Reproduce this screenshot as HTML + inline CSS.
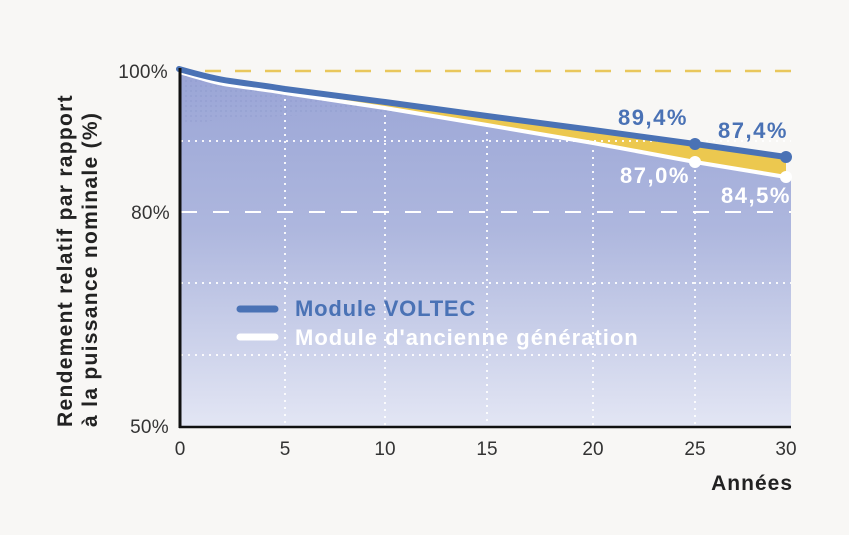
<!DOCTYPE html>
<html><head><meta charset="utf-8"><style>
html,body{margin:0;padding:0;background:#f8f7f5;}
svg{display:block;}
text{font-family:"Liberation Sans","DejaVu Sans",sans-serif;}
</style></head><body>
<svg width="849" height="535" viewBox="0 0 849 535" xmlns="http://www.w3.org/2000/svg">
<defs>
<linearGradient id="g" x1="0" y1="0" x2="0" y2="1">
<stop offset="0" stop-color="#9aa5d6"/>
<stop offset="0.45" stop-color="#aeb7de"/>
<stop offset="1" stop-color="#e3e6f4"/>
</linearGradient>
<pattern id="dots" width="5" height="5" patternUnits="userSpaceOnUse">
<circle cx="1" cy="1" r="0.6" fill="#5a6aa8" opacity="0.5"/>
</pattern>
</defs>
<rect width="849" height="535" fill="#f8f7f5"/>
<line x1="205" y1="71" x2="791" y2="71" stroke="#e9c75c" stroke-width="2.5" stroke-dasharray="16,14"/>
<path d="M179,70 C200,76 215,82 230,84 C250,87 268,89 285,92 L385,107 L487,124 L593,142 L695,162 L791,178 L791,427 L179,427 Z" fill="url(#g)"/>
<path d="M181,72 C200,78 215,84 230,86 C250,89 268,91 285,94 L385,109 L420,114 C360,118 280,110 181,125 Z" fill="url(#dots)" opacity="0.7"/>
<path d="M285,89 L385,102 L487,116 L593,130 L695,144 L786,157 L786,177 L695,162 L593,142 L487,124 L385,107 L285,92 Z" fill="#ecc84f"/>
<g stroke="#ffffff" stroke-width="2" stroke-dasharray="2,5" opacity="0.9">
<line x1="285" y1="92" x2="285" y2="425"/>
<line x1="385" y1="108" x2="385" y2="425"/>
<line x1="487" y1="125" x2="487" y2="425"/>
<line x1="593" y1="143" x2="593" y2="425"/>
<line x1="695" y1="163" x2="695" y2="425"/>
<line x1="181" y1="141" x2="791" y2="141"/>
<line x1="181" y1="283" x2="791" y2="283"/>
<line x1="181" y1="355" x2="791" y2="355"/>
</g>
<line x1="181" y1="212" x2="791" y2="212" stroke="#ffffff" stroke-width="2" stroke-dasharray="16,16"/>
<path d="M179,72 C200,78 215,83 230,85 C250,88 268,90 285,93 L385,108 L487,125 L593,143 L695,162 L786,177" fill="none" stroke="#ffffff" stroke-width="4" stroke-linejoin="round"/>
<path d="M179,69 C200,75 215,79 230,81 C250,84 268,86 285,89 L385,102 L487,116 L593,130 L695,144 L786,157" fill="none" stroke="#4a72b5" stroke-width="6" stroke-linejoin="round" stroke-linecap="round"/>
<circle cx="695" cy="144" r="6" fill="#4a72b5"/>
<circle cx="786" cy="157" r="6" fill="#4a72b5"/>
<circle cx="695" cy="162" r="6" fill="#ffffff"/>
<circle cx="786" cy="177" r="6" fill="#ffffff"/>
<line x1="180" y1="68" x2="180" y2="428" stroke="#111" stroke-width="3"/>
<line x1="179" y1="427" x2="791" y2="427" stroke="#111" stroke-width="2.5"/>
<g fill="#333" font-size="19" text-anchor="end" letter-spacing="0.3">
<text x="168" y="78">100%</text>
<text x="170" y="219">80%</text>
<text x="169" y="433">50%</text>
</g>
<g fill="#333" font-size="19" text-anchor="middle">
<text x="180" y="455">0</text>
<text x="285" y="455">5</text>
<text x="385" y="455">10</text>
<text x="487" y="455">15</text>
<text x="593" y="455">20</text>
<text x="695" y="455">25</text>
<text x="786" y="455">30</text>
</g>
<text x="793" y="490" text-anchor="end" font-size="21" font-weight="bold" fill="#222" letter-spacing="1">Années</text>
<g transform="translate(72,427) rotate(-90)">
<text x="0" y="0" font-size="21" font-weight="bold" fill="#222" letter-spacing="1.3">Rendement relatif par rapport</text>
<text x="0" y="25" font-size="21" font-weight="bold" fill="#222" letter-spacing="1.3">à la puissance nominale (%)</text>
</g>
<g font-size="22" font-weight="bold" letter-spacing="1.5">
<text x="653" y="125" text-anchor="middle" fill="#4a72b5">89,4%</text>
<text x="753" y="138" text-anchor="middle" fill="#4a72b5">87,4%</text>
<text x="655" y="183" text-anchor="middle" fill="#ffffff">87,0%</text>
<text x="756" y="203" text-anchor="middle" fill="#ffffff">84,5%</text>
</g>
<line x1="240" y1="309" x2="275" y2="309" stroke="#4a72b5" stroke-width="7" stroke-linecap="round"/>
<line x1="240" y1="337" x2="275" y2="337" stroke="#ffffff" stroke-width="7" stroke-linecap="round"/>
<text x="295" y="316" font-size="22" font-weight="bold" fill="#4a72b5" letter-spacing="0.8">Module VOLTEC</text>
<text x="295" y="345" font-size="22" font-weight="bold" fill="#ffffff" letter-spacing="1">Module d'ancienne génération</text>
</svg>
</body></html>
